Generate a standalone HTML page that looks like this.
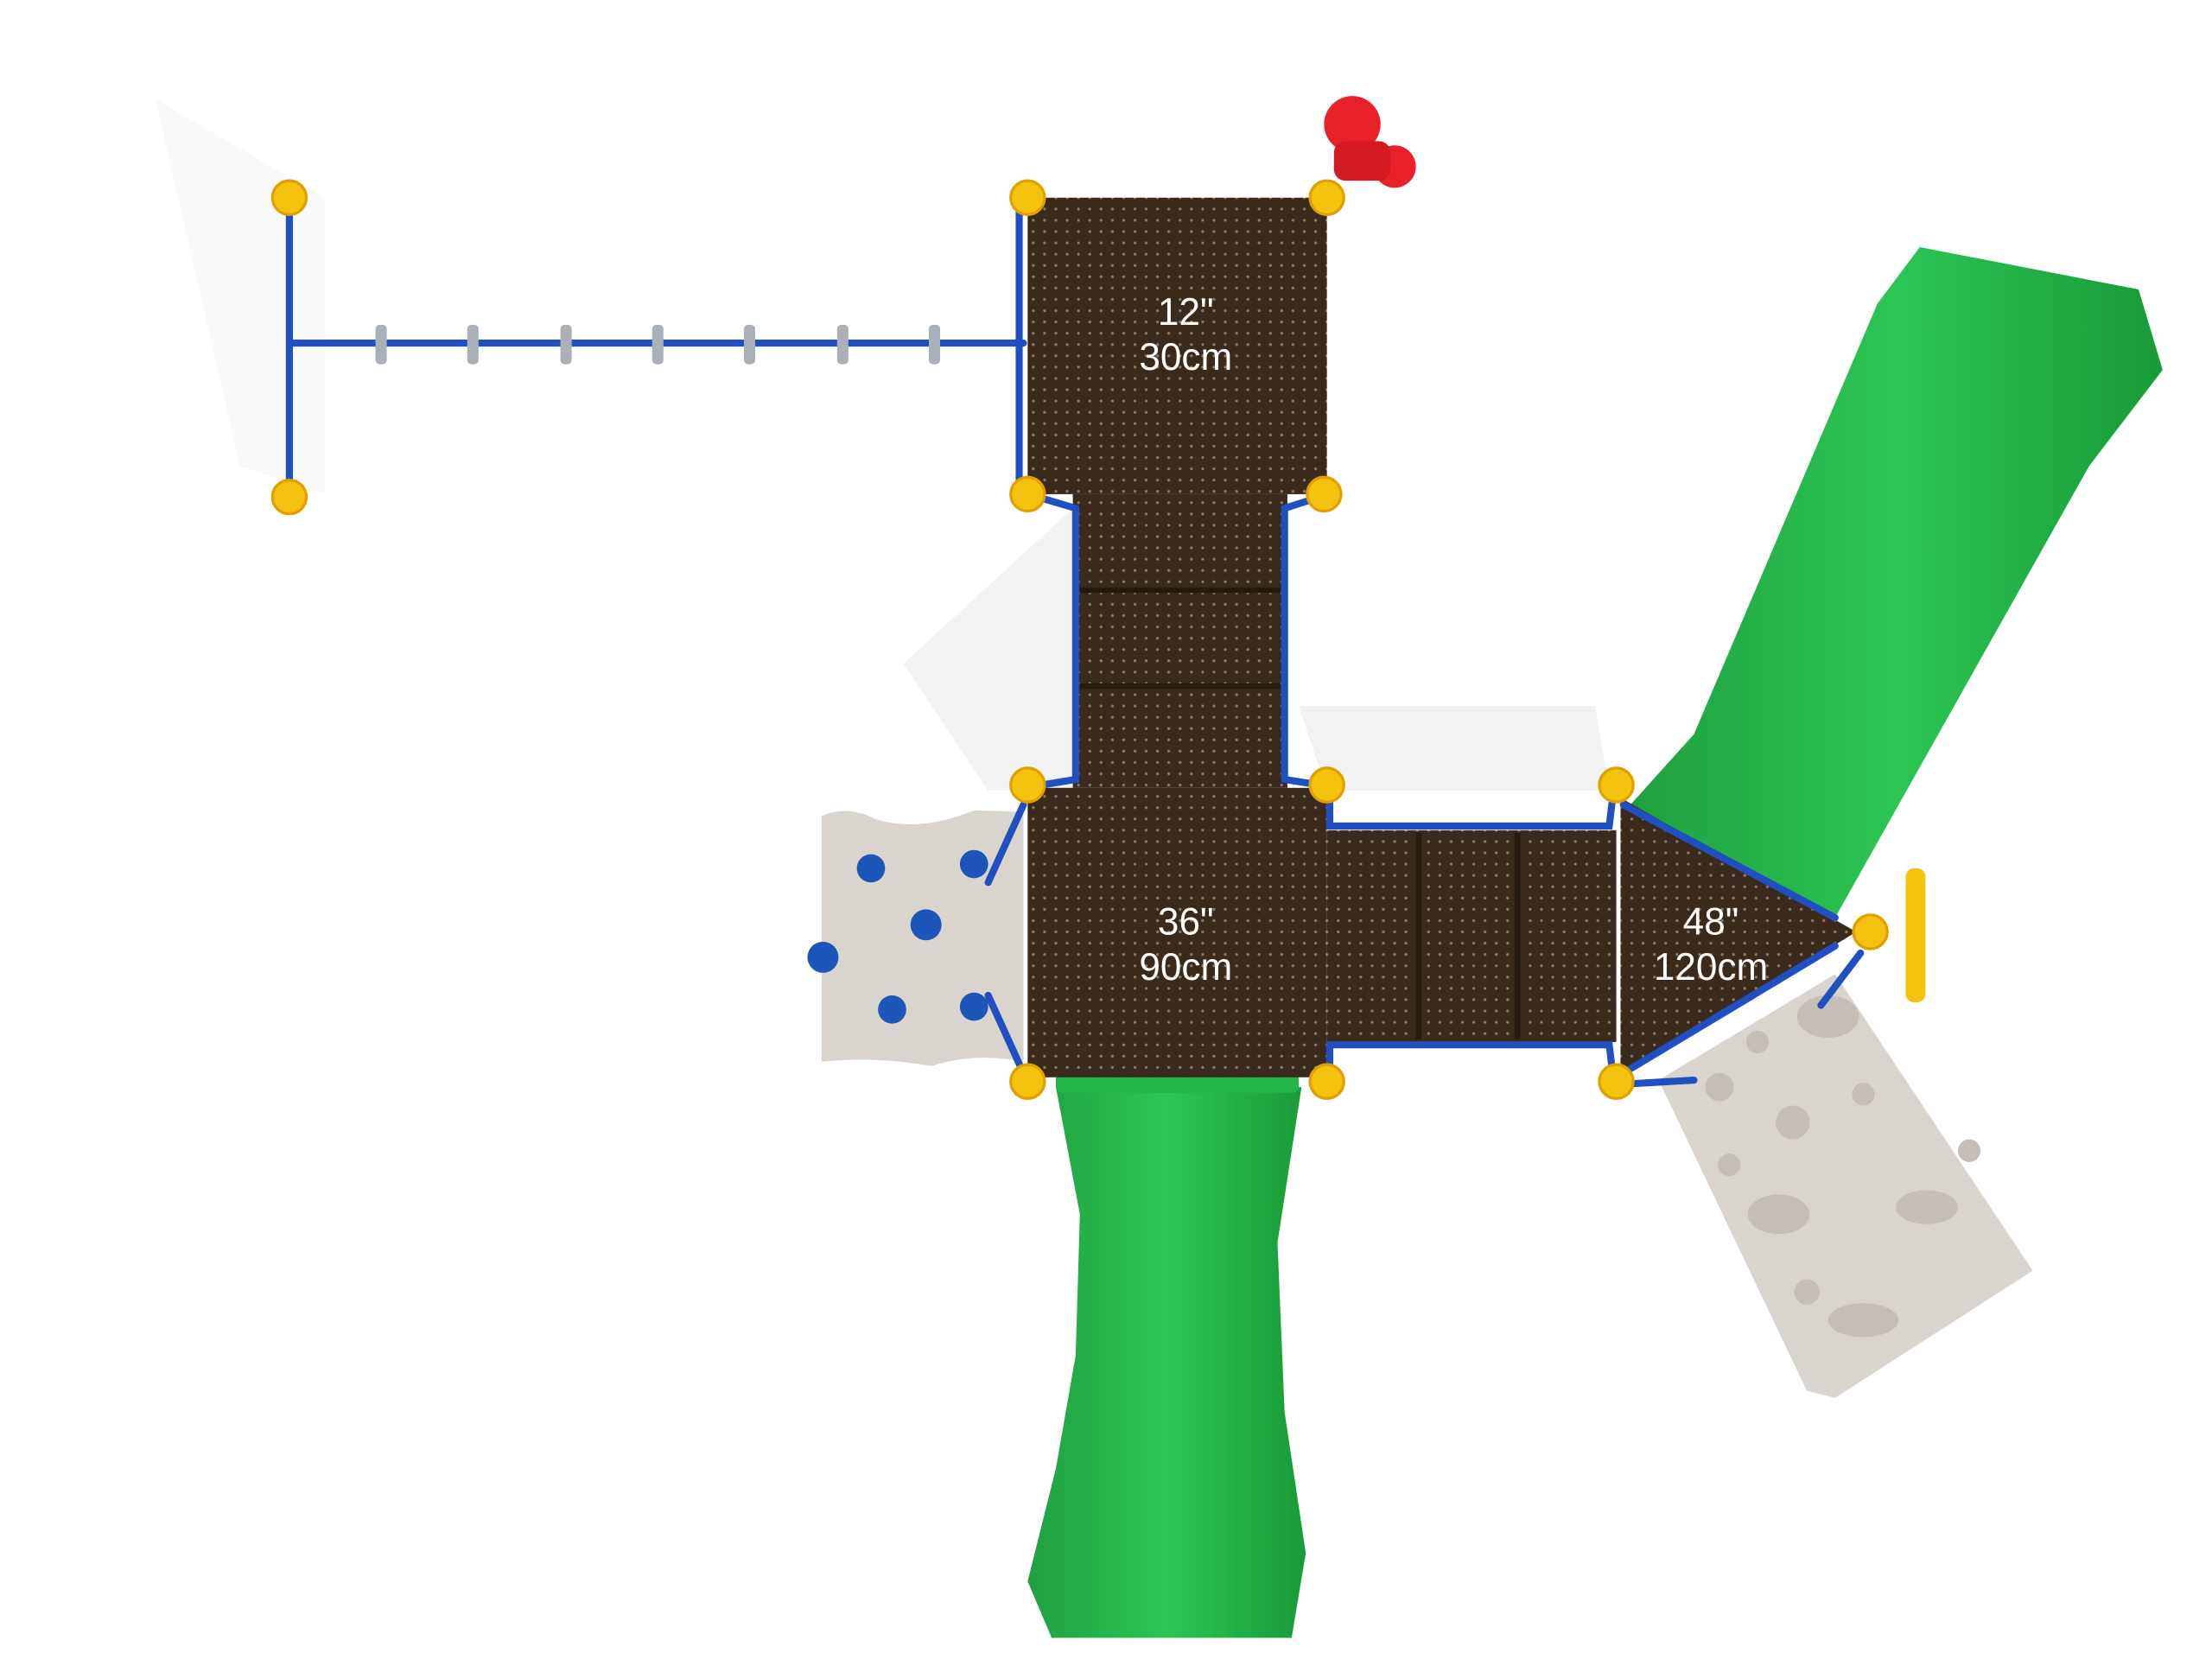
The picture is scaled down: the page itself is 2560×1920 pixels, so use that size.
<!DOCTYPE html>
<html><head><meta charset="utf-8"><style>
html,body{margin:0;padding:0;background:#fff;}
svg{display:block;}
text{font-family:"Liberation Sans",sans-serif;fill:#fff;font-size:27px;text-anchor:middle;}
</style></head><body>
<svg width="2560" height="1920" viewBox="0 0 1567 1175" preserveAspectRatio="none" xmlns="http://www.w3.org/2000/svg">
<defs>
<pattern id="dots" width="8" height="8" patternUnits="userSpaceOnUse">
<rect width="8" height="8" fill="#3a2a1c"/><circle cx="4" cy="4" r="1" fill="#8a7a66"/>
</pattern>
<linearGradient id="g1" x1="0" x2="1"><stop offset="0" stop-color="#1fa040"/><stop offset="0.5" stop-color="#2cc654"/><stop offset="1" stop-color="#189a38"/></linearGradient>
</defs>
<!-- shadows -->
<polygon points="640,470 760,360 760,560 700,560" fill="#f3f3f3"/>
<polygon points="920,500 1130,500 1140,560 940,560" fill="#f2f2f2"/>
<polygon points="110,70 230,140 230,350 170,330" fill="#f9f9f9"/>
<!-- bottom slide -->
<path d="M748,770 L922,770 L905,880 L910,1000 L925,1100 L915,1160 L745,1160 L728,1120 L748,1040 L762,960 L765,860 Z" fill="url(#g1)"/>
<rect x="748" y="758" width="172" height="16" rx="4" fill="#22b548"/>
<!-- diagonal slide -->
<polygon points="1155,570 1300,650 1480,330 1532,262 1515,205 1360,175 1330,215 1200,520" fill="url(#g1)"/>
<!-- right climbing wall -->
<polygon points="1175,765 1300,690 1440,900 1300,990 1280,985" fill="#d9d4cd"/>
<g fill="#c4beb6"><circle cx="1245" cy="738" r="8"/><circle cx="1270" cy="795" r="12"/><circle cx="1225" cy="825" r="8"/><ellipse cx="1260" cy="860" rx="22" ry="14"/><circle cx="1320" cy="775" r="8"/><ellipse cx="1365" cy="855" rx="22" ry="12"/><circle cx="1280" cy="915" r="9"/><ellipse cx="1320" cy="935" rx="25" ry="12"/><circle cx="1395" cy="815" r="8"/><ellipse cx="1295" cy="720" rx="22" ry="15"/><circle cx="1218" cy="770" r="10"/></g>
<!-- left climbing wall -->
<path d="M582,578 Q600,570 620,580 Q650,590 690,574 L725,575 L725,752 Q690,745 660,755 Q620,748 582,752 Z" fill="#d9d4cd"/>
<g fill="#1c56b8"><circle cx="617" cy="615" r="10"/><circle cx="690" cy="612" r="10"/><circle cx="656" cy="655" r="11"/><circle cx="583" cy="678" r="11"/><circle cx="632" cy="715" r="10"/><circle cx="690" cy="713" r="10"/></g>
<!-- decks -->
<rect x="728" y="140" width="212" height="210" fill="url(#dots)"/>
<rect x="760" y="350" width="152" height="208" fill="url(#dots)"/>
<line x1="765" y1="418" x2="907" y2="418" stroke="#251a10" stroke-width="4"/>
<line x1="765" y1="486" x2="907" y2="486" stroke="#251a10" stroke-width="4"/>
<rect x="728" y="558" width="212" height="205" fill="url(#dots)"/>
<rect x="940" y="588" width="205" height="150" fill="url(#dots)"/>
<line x1="1005" y1="590" x2="1005" y2="736" stroke="#251a10" stroke-width="4"/>
<line x1="1075" y1="590" x2="1075" y2="736" stroke="#251a10" stroke-width="4"/>
<polygon points="1148,565 1148,762 1315,660" fill="url(#dots)"/>
<!-- blue rails -->
<g stroke="#1f4fc0" stroke-width="5" fill="none" stroke-linecap="round">
<line x1="205" y1="143" x2="205" y2="350"/><line x1="205" y1="243" x2="725" y2="243"/>
<line x1="722" y1="145" x2="722" y2="345"/>
<polyline points="735,352 762,360 762,552 738,556"/>
<polyline points="935,352 910,360 910,552 935,556"/>
<polyline points="942,565 942,585 1140,585 1143,560"/>
<polyline points="942,760 942,740 1140,740 1143,765"/>
<line x1="1150" y1="570" x2="1300" y2="650"/><line x1="1150" y1="760" x2="1300" y2="670"/>
<line x1="700" y1="625" x2="725" y2="570"/><line x1="700" y1="705" x2="725" y2="760"/>
<line x1="1148" y1="768" x2="1200" y2="765"/><line x1="1290" y1="712" x2="1318" y2="675"/>
</g>
<!-- rungs -->
<g fill="#aab0b8"><rect x="266" y="230" width="8" height="28" rx="3"/><rect x="331" y="230" width="8" height="28" rx="3"/><rect x="397" y="230" width="8" height="28" rx="3"/><rect x="462" y="230" width="8" height="28" rx="3"/><rect x="527" y="230" width="8" height="28" rx="3"/><rect x="593" y="230" width="8" height="28" rx="3"/><rect x="658" y="230" width="8" height="28" rx="3"/></g>
<!-- posts -->
<g fill="#f6c210" stroke="#e0a000" stroke-width="2">
<circle cx="205" cy="140" r="12"/><circle cx="205" cy="352" r="12"/>
<circle cx="728" cy="140" r="12"/><circle cx="940" cy="140" r="12"/>
<circle cx="728" cy="350" r="12"/><circle cx="938" cy="350" r="12"/>
<circle cx="728" cy="556" r="12"/><circle cx="940" cy="556" r="12"/>
<circle cx="1145" cy="556" r="12"/><circle cx="728" cy="766" r="12"/>
<circle cx="940" cy="766" r="12"/><circle cx="1145" cy="766" r="12"/>
<circle cx="1325" cy="660" r="12"/>
</g>
<rect x="1350" y="615" width="14" height="95" rx="6" fill="#f6c210"/>
<!-- periscope -->
<circle cx="958" cy="88" r="20" fill="#e8202a"/><circle cx="988" cy="118" r="15" fill="#e8202a"/><rect x="945" y="100" width="40" height="28" rx="8" fill="#d41a22"/>
<!-- labels -->
<text x="840" y="230">12"</text><text x="840" y="262">30cm</text>
<text x="840" y="662">36"</text><text x="840" y="694">90cm</text>
<text x="1212" y="662">48"</text><text x="1212" y="694">120cm</text>
</svg>
</body></html>
